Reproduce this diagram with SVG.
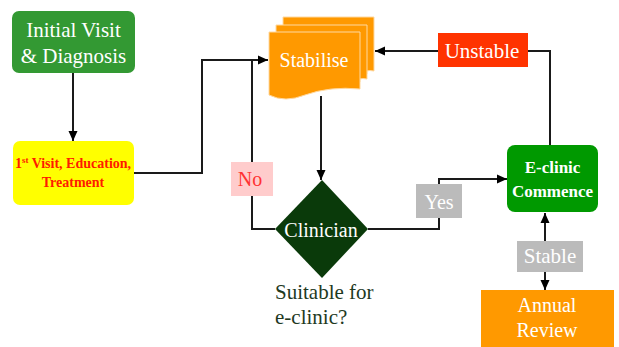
<svg xmlns="http://www.w3.org/2000/svg" width="619" height="347" viewBox="0 0 619 347">
<defs>
<style>
.ln{fill:none;stroke:#1a1a1a;stroke-width:2}
.t{font-family:"Liberation Serif",Tinos,"Times New Roman","DejaVu Serif",serif;text-anchor:middle}
.s{font-family:"Liberation Serif",Tinos,"Times New Roman","DejaVu Serif",serif}
.w{fill:#ffffff}
.doc{fill:#ff9900;stroke:#ffd9a0;stroke-width:1}
</style>
<marker id="ah" markerWidth="10" markerHeight="10" refX="10" refY="5" orient="auto" markerUnits="userSpaceOnUse">
<path d="M0,0.5 L10,5 L0,9.5 Z" fill="#000"/>
</marker>
<marker id="ahs" markerWidth="10" markerHeight="10" refX="10" refY="5" orient="auto-start-reverse" markerUnits="userSpaceOnUse">
<path d="M0,0.5 L10,5 L0,9.5 Z" fill="#000"/>
</marker>
</defs>
<rect width="619" height="347" fill="#ffffff"/>
<g id="connectors">
<path class="ln" d="M73,73 V141" marker-end="url(#ah)"/>
<path class="ln" d="M134,173 H202 V60 H268" marker-end="url(#ah)"/>
<path class="ln" d="M275,229 H252 V60"/>
<path class="ln" d="M321,96 V180" marker-end="url(#ah)"/>
<path class="ln" d="M368,229 H439 V179 H507" marker-end="url(#ah)"/>
<path class="ln" d="M550,145 V51 H375" marker-end="url(#ah)"/>
<path class="ln" d="M545,213 V290" marker-start="url(#ahs)" marker-end="url(#ah)"/>
</g>
<g id="initial">
<rect x="12" y="11" width="123" height="62" rx="7" fill="#339933"/>
<text class="t w" x="73.5" y="37" font-size="21">Initial Visit</text>
<text class="t w" x="73.5" y="63" font-size="21">&amp; Diagnosis</text>
</g>
<g id="firstvisit">
<rect x="13" y="141" width="121" height="64" rx="7" fill="#ffff00"/>
<text class="t" x="73" y="168" font-size="14" font-weight="bold" fill="#ff1a00">1<tspan font-size="9" dy="-5">st</tspan><tspan dy="5"> Visit, Education,</tspan></text>
<text class="t" x="73" y="187" font-size="14" font-weight="bold" fill="#ff1a00">Treatment</text>
</g>
<g id="stabilise">
<path class="doc" d="M283,17 H374 V71 Q369,70 367,71 L367,74 L283,74 Z"/>
<path class="doc" d="M276,25 H367 V79 Q362,78 360,79 L360,82 L276,82 Z"/>
<path class="doc" d="M269,32 H360 V89 Q330,86 305,95 Q285,103 269,95 Z"/>
<text class="t w" x="314" y="67" font-size="20">Stabilise</text>
</g>
<g id="no">
<rect x="231" y="162" width="42" height="34" fill="#ffcccc"/>
<text class="t" x="250" y="186" font-size="20" fill="#ff3333">No</text>
</g>
<g id="clinician">
<path d="M322,180 L368,229 L322,278 L275,229 Z" fill="#0a3a0a"/>
<text class="t w" x="321" y="237" font-size="20">Clinician</text>
<text class="s" x="275" y="299" font-size="21" fill="#1f3a1f">Suitable for</text>
<text class="s" x="275" y="324" font-size="21" fill="#1f3a1f">e-clinic?</text>
</g>
<g id="yes">
<rect x="416" y="184" width="46" height="34" fill="#bbbbbb"/>
<text class="t w" x="439" y="209" font-size="20">Yes</text>
</g>
<g id="unstable">
<rect x="438" y="33" width="90" height="34" fill="#ff3300"/>
<text class="t w" x="482" y="58" font-size="21">Unstable</text>
</g>
<g id="eclinic">
<rect x="507" y="145" width="91" height="67" rx="8" fill="#009900"/>
<text class="t w" x="552.5" y="173" font-size="17" font-weight="bold">E-clinic</text>
<text class="t w" x="552.5" y="197" font-size="17" font-weight="bold">Commence</text>
</g>
<g id="stable">
<rect x="517" y="241" width="66" height="31" fill="#bbbbbb"/>
<text class="t w" x="550" y="263" font-size="21">Stable</text>
</g>
<g id="annual">
<rect x="481" y="290" width="133" height="57" fill="#ff9900"/>
<text class="t w" x="547" y="312" font-size="20">Annual</text>
<text class="t w" x="547" y="337" font-size="20">Review</text>
</g>
</svg>
